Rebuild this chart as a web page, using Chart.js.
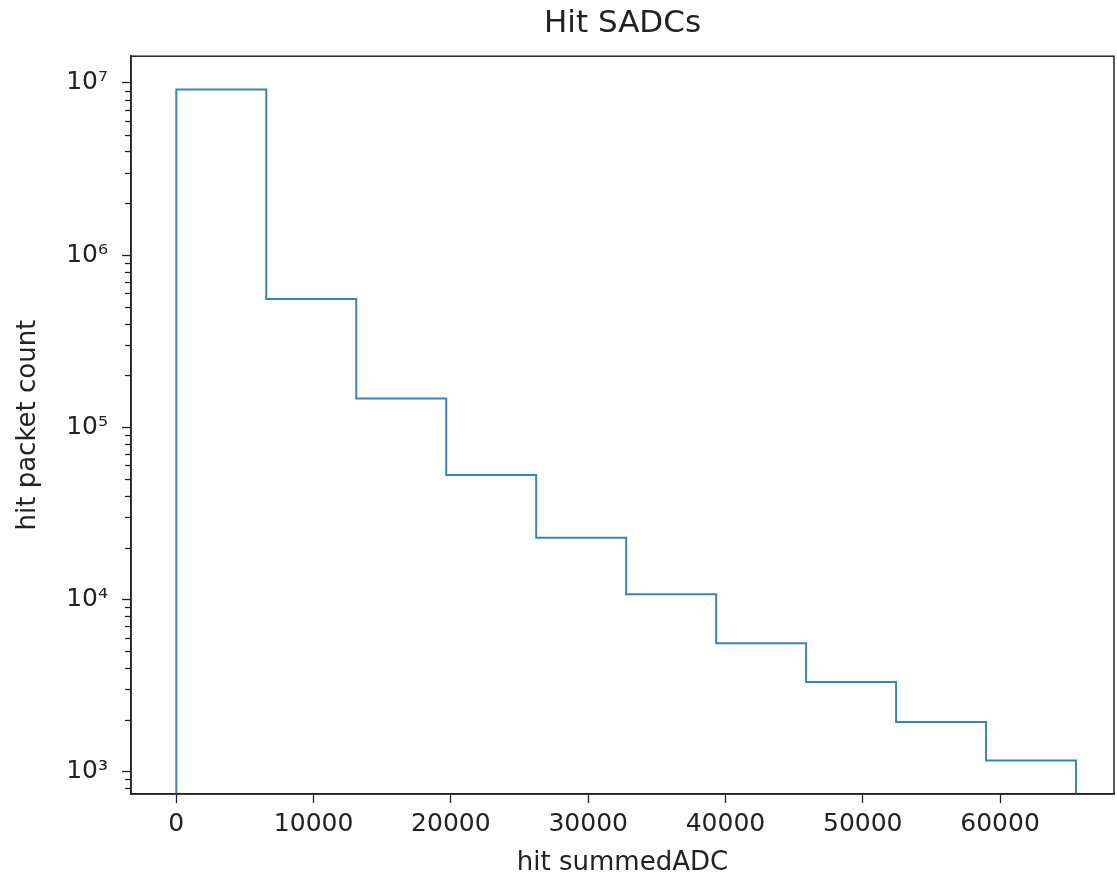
<!DOCTYPE html>
<html>
<head>
<meta charset="utf-8">
<script src="https://cdn.jsdelivr.net/npm/chart.js@4/dist/chart.umd.min.js"></script>
<style>
  html, body { margin:0; padding:0; background:#fff; }
  canvas { display:block; }
</style>
</head>
<body>
<canvas id="histChart" width="1117" height="879"></canvas>
<script>
// --- Data ---
const binEdges = [0, 6553.5, 13107, 19660.5, 26214, 32767.5, 39321, 45874.5, 52428, 58981.5, 65535];
const binCounts = [9.16e6, 5.56e5, 1.47e5, 5.28e4, 2.28e4, 1.07e4, 5.56e3, 3.31e3, 1.94e3, 1.16e3];
const xTicks = [0, 10000, 20000, 30000, 40000, 50000, 60000];
const yTicks = [1e3, 1e4, 1e5, 1e6, 1e7];
const baseline = 1; // step outline drops to the bottom, clipped like matplotlib

const FONT = "'DejaVu Sans', sans-serif";
const INK = '#222';
const LINE = '#3a84bb';

// step outline: up at first edge, across each bin, down at last edge
const stepPoints = [{x: binEdges[0], y: baseline}];
binCounts.forEach((c, i) => {
  stepPoints.push({x: binEdges[i], y: c});
  stepPoints.push({x: binEdges[i+1], y: c});
});
stepPoints.push({x: binEdges[binEdges.length-1], y: baseline});

const SUP = {'0':'⁰','1':'¹','2':'²','3':'³','4':'⁴','5':'⁵','6':'⁶','7':'⁷','8':'⁸','9':'⁹','-':'⁻'};
function powLabel(v){
  const e = Math.round(Math.log10(v));
  return '10' + String(e).split('').map(ch => SUP[ch]).join('');
}

// frame + minor log ticks
const framePlugin = {
  id: 'frame',
  afterDraw(chart){
    const {ctx, chartArea:a, scales} = chart;
    const y = scales.y;
    ctx.save();
    ctx.strokeStyle = INK;
    ctx.lineWidth = 1.3;
    // minor ticks on y
    for(let e = Math.floor(Math.log10(y.min)); e <= Math.ceil(Math.log10(y.max)); e++){
      for(let m = 2; m <= 9; m++){
        const v = m * Math.pow(10, e);
        if(v < y.min || v > y.max) continue;
        const py = Math.round(y.getPixelForValue(v)) + 0.5;
        ctx.beginPath();
        ctx.moveTo(a.left - 6, py);
        ctx.lineTo(a.left, py);
        ctx.stroke();
      }
    }
    ctx.lineWidth = 1.5;
    ctx.strokeRect(a.left, a.top, a.right - a.left, a.bottom - a.top);
    ctx.restore();
  }
};

const ctx = document.getElementById('histChart').getContext('2d');
new Chart(ctx, {
  type: 'line',
  data: {
    datasets: [{
      label: 'hit summedADC',
      data: stepPoints,
      borderColor: LINE,
      borderWidth: 2,
      pointRadius: 0,
      fill: false,
      tension: 0
    }]
  },
  options: {
    responsive: false,
    animation: false,
    devicePixelRatio: 1,
    layout: { padding: {top: 0, left: 0, right: 3, bottom: 0} },
    plugins: {
      legend: { display: false },
      tooltip: { enabled: false },
      title: {
        display: true,
        text: 'Hit SADCs',
        fullSize: false,
        color: INK,
        font: { family: FONT, size: 31, weight: 'normal' },
        padding: { top: 5, bottom: 14 }
      }
    },
    scales: {
      x: {
        type: 'linear',
        min: -3300,
        max: 68300,
        afterBuildTicks: s => { s.ticks = xTicks.map(v => ({value: v})); },
        afterFit: s => { s.height = 85; },
        ticks: {
          autoSkip: false, maxRotation: 0, color: INK, padding: 6,
          font: { family: FONT, size: 25 },
          callback: v => String(v)
        },
        grid: { drawOnChartArea: false, tickLength: 9, tickWidth: 1.3, tickColor: INK },
        border: { color: INK, width: 1.5 },
        title: {
          display: true, text: 'hit summedADC', color: INK,
          font: { family: FONT, size: 26 }, padding: { top: 0, bottom: 0 }
        }
      },
      y: {
        type: 'logarithmic',
        min: 741,
        max: 1.43e7,
        afterBuildTicks: s => { s.ticks = yTicks.map(v => ({value: v})); },
        afterFit: s => { s.width = 131; },
        ticks: {
          autoSkip: false, color: INK, padding: 14,
          font: { family: FONT, size: 25 },
          callback: v => powLabel(v)
        },
        grid: { drawOnChartArea: false, tickLength: 9, tickWidth: 1.3, tickColor: INK },
        border: { color: INK, width: 1.5 },
        title: {
          display: true, text: 'hit packet count', color: INK,
          font: { family: FONT, size: 26 }, padding: { top: 13, bottom: 0 }
        }
      }
    }
  },
  plugins: [framePlugin]
});
</script>
</body>
</html>
